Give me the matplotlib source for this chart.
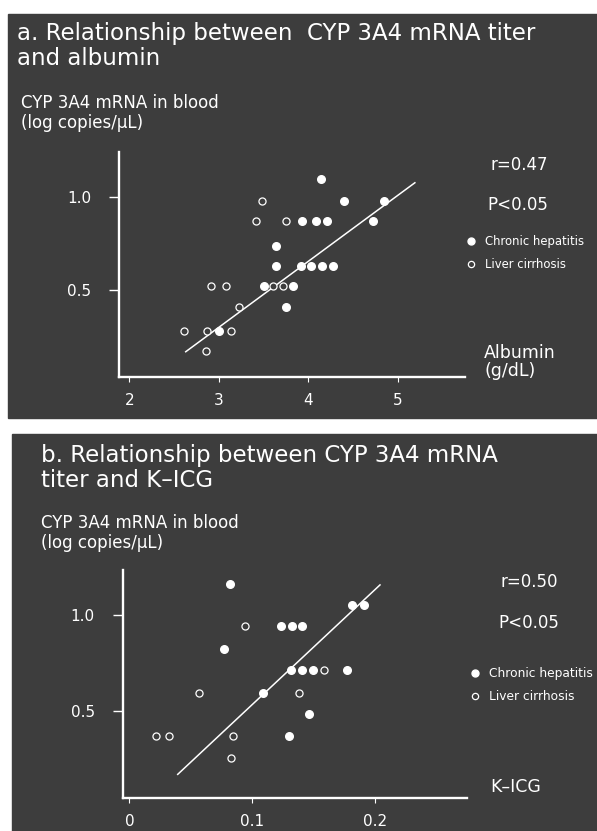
import matplotlib
matplotlib.use("Agg")
import matplotlib.pyplot as plt
from matplotlib.patches import Rectangle
from matplotlib.lines import Line2D

plt.rcParams['font.family'] = ['DejaVu Sans']

W, H = 597, 831
BG = '#3d3d3d'
FG = 'white'

# --- panel a: albumin (g/dL) vs CYP 3A4 mRNA (log copies/uL) ---
alb_ch_x = [4.14, 4.40, 4.84, 3.93, 4.09, 4.21, 4.72, 3.64, 3.64, 3.92,
            4.03, 4.15, 4.28, 3.50, 3.83, 3.75, 3.00]
alb_ch_y = [1.10, 0.98, 0.98, 0.87, 0.87, 0.87, 0.87, 0.74, 0.63, 0.63,
            0.63, 0.63, 0.63, 0.52, 0.52, 0.41, 0.28]
alb_lc_x = [3.48, 3.42, 3.75, 2.91, 3.08, 3.61, 3.72, 3.23, 2.61, 2.87,
            3.14, 2.86]
alb_lc_y = [0.98, 0.87, 0.87, 0.52, 0.52, 0.52, 0.52, 0.41, 0.28, 0.28,
            0.28, 0.17]
alb_line_x = [2.63, 5.19]
alb_line_y = [0.167, 1.079]
alb_xticks = [2, 3, 4, 5]

# --- panel b: K-ICG vs CYP 3A4 mRNA ---
icg_ch_x = [0.0816, 0.1815, 0.1913, 0.1234, 0.1321, 0.1405, 0.0773, 0.1318,
            0.1405, 0.1492, 0.1769, 0.1090, 0.1462, 0.1297]
icg_ch_y = [1.16, 1.05, 1.05, 0.94, 0.94, 0.94, 0.82, 0.71,
            0.71, 0.71, 0.71, 0.59, 0.48, 0.37]
icg_lc_x = [0.0944, 0.1587, 0.0569, 0.1378, 0.0217, 0.0322, 0.0843, 0.0827]
icg_lc_y = [0.94, 0.71, 0.59, 0.59, 0.37, 0.37, 0.37, 0.25]
icg_line_x = [0.0393, 0.204]
icg_line_y = [0.167, 1.157]
icg_xticks = [0, 0.1, 0.2]
icg_xticklabels = ['0', '0.1', '0.2']

yticks = [0.5, 1.0]
yticklabels = ['0.5', '1.0']


def fx(x):
    return x / W


def fy(y):
    return 1 - y / H


def ftext(x, y, s, size, **kw):
    # y is the baseline of the last line, in pixels from the top
    fig.text(fx(x), fy(y), s, color=FG, fontsize=size, va='baseline', **kw)


fig = plt.figure(figsize=(W / 100, H / 100), dpi=100, facecolor='white')

# dark slide backgrounds
fig.patches.append(Rectangle((fx(8), fy(418)), fx(597 - 8), (418 - 14) / H,
                             transform=fig.transFigure, color=BG, zorder=-5))
fig.patches.append(Rectangle((fx(12), fy(831)), fx(597 - 12), (831 - 434) / H,
                             transform=fig.transFigure, color=BG, zorder=-5))


def setup_axes(rect, xlim, ylim):
    ax = fig.add_axes(rect)
    ax.set_facecolor('none')
    ax.set_xlim(xlim)
    ax.set_ylim(ylim)
    for s in ['top', 'right']:
        ax.spines[s].set_visible(False)
    for s in ['left', 'bottom']:
        ax.spines[s].set_color(FG)
        ax.spines[s].set_linewidth(1.7)
    ax.tick_params(axis='y', colors=FG, length=7, width=1.0, pad=13, labelsize=11)
    ax.tick_params(axis='x', colors=FG, length=3.5, width=0.8, pad=8, labelsize=11)
    ax.set_yticks(yticks)
    ax.set_yticklabels(yticklabels)
    return ax


def draw(ax, chx, chy, lcx, lcy, lx, ly):
    ax.plot(lx, ly, color=FG, lw=1.1, zorder=2)
    ax.scatter(chx, chy, s=30, color=FG, zorder=3, clip_on=False)
    ax.scatter(lcx, lcy, s=26, facecolors=BG, edgecolors=FG, linewidths=0.9,
               zorder=4, clip_on=False)


h_ch = Line2D([], [], ls='none', marker='o', ms=5, color=FG)
h_lc = Line2D([], [], ls='none', marker='o', ms=4.5, mfc=BG, mec=FG, mew=0.9)
leg_labels = ['Chronic hepatitis', 'Liver cirrhosis']

# panel a
ax1 = setup_axes([fx(119.3), fy(377.3), fx(465 - 119.3), (377.3 - 152) / H],
                 (1.888, 5.75), (0.029, 1.245))
ax1.set_xticks(alb_xticks)
draw(ax1, alb_ch_x, alb_ch_y, alb_lc_x, alb_lc_y, alb_line_x, alb_line_y)

ftext(17, 65, 'a. Relationship between  CYP 3A4 mRNA titer\nand albumin', 16.5,
      linespacing=1.13)
ftext(21, 128, 'CYP 3A4 mRNA in blood\n(log copies/μL)', 12, linespacing=1.15)
ftext(490, 170, 'r=0.47', 12)
ftext(487, 210, 'P<0.05', 12)
ftext(484, 376, 'Albumin\n(g/dL)', 12.5, linespacing=1.0)

ax1.legend([h_ch, h_lc], leg_labels,
           loc='upper left', bbox_to_anchor=(fx(466), fy(235)),
           bbox_transform=fig.transFigure, frameon=False, fontsize=8.4,
           labelcolor=FG, handlelength=0.8, handletextpad=0.8,
           labelspacing=0.85, borderpad=0, borderaxespad=0)

# panel b
ax2 = setup_axes([fx(122.7), fy(797.7), fx(466.7 - 122.7), (797.7 - 570) / H],
                 (-0.0055, 0.2746), (0.045, 1.235))
ax2.set_xticks(icg_xticks)
ax2.set_xticklabels(icg_xticklabels)
draw(ax2, icg_ch_x, icg_ch_y, icg_lc_x, icg_lc_y, icg_line_x, icg_line_y)

ftext(41, 487, 'b. Relationship between CYP 3A4 mRNA\ntiter and K–ICG', 16.5,
      linespacing=1.13)
ftext(41, 548, 'CYP 3A4 mRNA in blood\n(log copies/μL)', 12, linespacing=1.15)
ftext(500, 587, 'r=0.50', 12)
ftext(498, 628, 'P<0.05', 12)
ftext(490, 792, 'K–ICG', 12.5)

ax2.legend([h_ch, h_lc], leg_labels,
           loc='upper left', bbox_to_anchor=(fx(470), fy(667)),
           bbox_transform=fig.transFigure, frameon=False, fontsize=8.8,
           labelcolor=FG, handlelength=0.8, handletextpad=0.75,
           labelspacing=0.8, borderpad=0, borderaxespad=0)

fig.savefig('out.png', dpi=100, facecolor='white')
